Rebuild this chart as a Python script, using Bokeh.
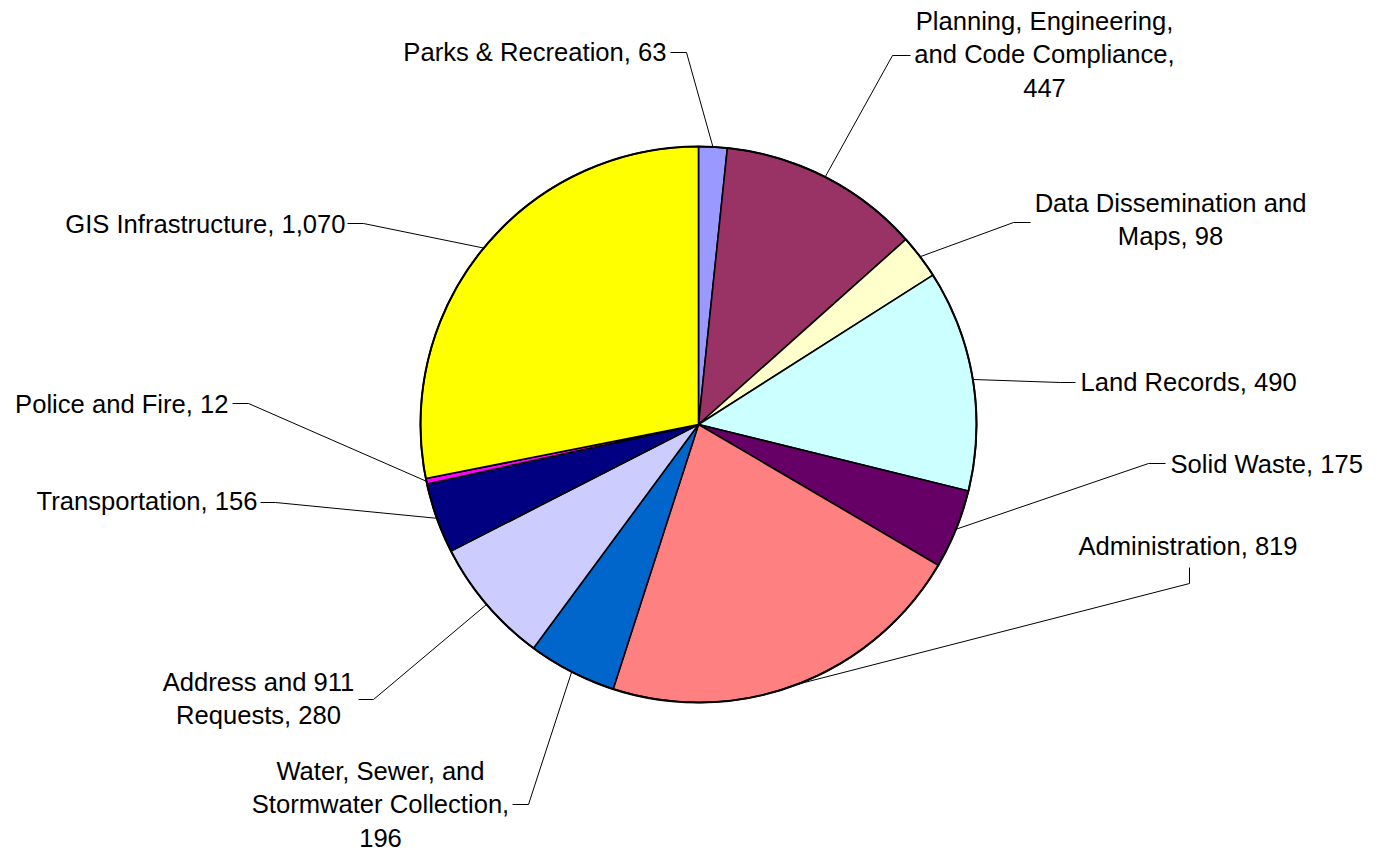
import math
import textwrap
from bokeh.plotting import figure
from bokeh.models import ColumnDataSource, Range1d
from bokeh.core.properties import value
from bokeh.embed import file_html
from bokeh.resources import INLINE

# ---------------- data ----------------
categories = [
    "Parks & Recreation",
    "Planning, Engineering, and Code Compliance",
    "Data Dissemination and Maps",
    "Land Records",
    "Solid Waste",
    "Administration",
    "Water, Sewer, and Stormwater Collection",
    "Address and 911 Requests",
    "Transportation",
    "Police and Fire",
    "GIS Infrastructure",
]
values = [63, 447, 98, 490, 175, 819, 196, 280, 156, 12, 1070]
colors = ["#9999FF", "#993366", "#FFFFCC", "#CCFFFF", "#660066", "#FF8080",
          "#0066CC", "#CCCCFF", "#000080", "#FF00FF", "#FFFF00"]

# ---------------- layout (page pixels, y downward) ----------------
W, H = 1376, 850
PAGE_H = 851
CX, CY, R = 698, 424, 278
label_align = ["right", "center", "center", "left", "left", "left",
               "center", "center", "right", "right", "right"]
label_x = [666, 1044, 1170, 1080, 1170, 1078, 380, 258, 257, 228, 345]
label_y = [51, 20, 202, 381, 463, 545, 770, 681, 500, 403, 223]
wrap_width = [0, 22, 22, 0, 0, 0, 22, 22, 0, 0, 0]
elbow_x = [686, 892, 1013, 1060, 1148, 1189, 528, 373, 275, 248, 363]
elbow_y = [52, 55, 222, 382, 463, 583, 804, 699, 502, 403, 223]
end_x = [670, 910, 1030, 1075, 1165, 1189, 512, 358, 260, 232, 347]
end_y = [52, 55, 222, 382, 463, 567, 804, 699, 502, 403, 223]
LINE_GAP = 33.5
FONT = "Liberation Sans"
FONT_SIZE = "25.6px"
BASE_OFF = 0


def fy(y):
    return PAGE_H - y


total = float(sum(values))
starts, ends, mids = [], [], []
cum = 0.0
for v in values:
    a0 = math.pi / 2 - 2 * math.pi * cum / total
    a1 = math.pi / 2 - 2 * math.pi * (cum + v) / total
    starts.append(a1)
    ends.append(a0)
    mids.append(math.pi / 2 - 2 * math.pi * (cum + v / 2) / total)
    cum += v

cxd, cyd = CX, fy(CY)

p = figure(width=W, height=H,
           x_range=Range1d(0, W), y_range=Range1d(PAGE_H - H, PAGE_H),
           output_backend="svg", toolbar_location=None, min_border=0,
           x_axis_location=None, y_axis_location=None)
p.grid.visible = False
p.outline_line_color = None
p.background_fill_color = "white"
p.border_fill_color = "white"

wsrc = ColumnDataSource(dict(x=[cxd] * len(values), y=[cyd] * len(values),
                             start=starts, end=ends, color=colors))
p.wedge(x="x", y="y", radius=R, start_angle="start", end_angle="end",
        fill_color="color", line_color="black", line_width=1.6, source=wsrc)
p.circle(x=[cxd], y=[cyd], radius=R, fill_color=None, line_color="black", line_width=2)

# leader lines
xs, ys = [], []
for i, m in enumerate(mids):
    sx = cxd + R * math.cos(m)
    sy = cyd + R * math.sin(m)
    xs.append([sx, elbow_x[i], end_x[i]])
    ys.append([sy, fy(elbow_y[i]), fy(end_y[i])])
p.multi_line(xs=xs, ys=ys, line_color="black", line_width=1)

# labels
groups = {"left": dict(x=[], y=[], text=[]),
          "right": dict(x=[], y=[], text=[]),
          "center": dict(x=[], y=[], text=[])}
for i, (cat, v) in enumerate(zip(categories, values)):
    lab = f"{cat}, {v:,}"
    lines = textwrap.wrap(lab, wrap_width[i]) if wrap_width[i] else [lab]
    for k, ln in enumerate(lines):
        g = groups[label_align[i]]
        g["x"].append(label_x[i])
        g["y"].append(fy(label_y[i] + k * LINE_GAP + BASE_OFF))
        g["text"].append(ln)
for align, g in groups.items():
    p.text(x="x", y="y", text="text", source=ColumnDataSource(g),
           text_align=align, text_baseline="alphabetic",
           text_font=value(FONT), text_font_size=FONT_SIZE, text_color="black")

open("out.html", "w").write(file_html(p, INLINE))
